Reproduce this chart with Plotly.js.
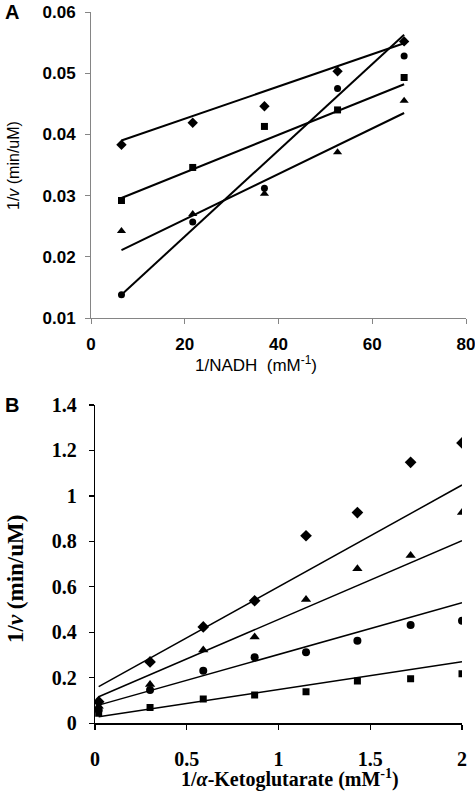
<!DOCTYPE html>
<html><head><meta charset="utf-8">
<script src="https://cdn.plot.ly/plotly-3.0.1.min.js"></script>
<style>html,body{margin:0;padding:0;background:#fff;}#chart{width:475px;height:792px;}</style>
</head><body><div id="chart"></div>
<script>
// Panel A: 1/NADH (mM^-1) vs 1/v
const xA = [6.5, 21.7, 37, 52.6, 66.8];
const diamondA = [0.0383, 0.0419, 0.0446, 0.0503, 0.0552];
const circleA = [0.0138, 0.0257, 0.0312, 0.0475, 0.0528];
const squareA = [0.0292, 0.0346, 0.0413, 0.0440, 0.0493];
const triangleA = [0.0242, 0.0270, 0.0303, 0.0371, 0.0455];
// trend line end points
const xFitA = [6.5, 66.8];
const diamondFitA = [0.0390, 0.0549];
const circleFitA = [0.0138, 0.0563];
const squareFitA = [0.0296, 0.0482];
const triangleFitA = [0.0211, 0.0435];

// Panel B: 1/alpha-ketoglutarate (mM^-1) vs 1/v
const xB = [0.02, 0.30, 0.59, 0.87, 1.15, 1.43, 1.72, 2.0];
const diamondB = [0.095, 0.27, 0.424, 0.539, 0.825, 0.927, 1.148, 1.233];
const triangleB = [0.075, 0.171, 0.322, 0.38, 0.544, 0.68, 0.738, 0.927];
const circleB = [0.058, 0.146, 0.231, 0.29, 0.312, 0.363, 0.432, 0.451];
const squareB = [0.044, 0.069, 0.107, 0.124, 0.139, 0.186, 0.196, 0.218];
const xFitB = [0.02, 2.0];
const diamondFitB = [0.161, 1.048];
const triangleFitB = [0.117, 0.803];
const circleFitB = [0.08, 0.53];
const squareFitB = [0.029, 0.271];

const sans = 'Liberation Sans, Arial, sans-serif';
const serif = 'Liberation Serif, Times New Roman, serif';

function pts(x, y, sym, size, xa, ya) {
  return {x: x, y: y, type: 'scatter', mode: 'markers', xaxis: xa, yaxis: ya,
    marker: {symbol: sym, size: size, color: '#000'}, showlegend: false, hoverinfo: 'skip'};
}
function fit(x, y, w, xa, ya) {
  return {x: x, y: y, type: 'scatter', mode: 'lines', xaxis: xa, yaxis: ya,
    line: {color: '#000', width: w}, showlegend: false, hoverinfo: 'skip'};
}

const traces = [
  fit(xFitA, diamondFitA, 2, 'x', 'y'),
  fit(xFitA, circleFitA, 2, 'x', 'y'),
  fit(xFitA, squareFitA, 2, 'x', 'y'),
  fit(xFitA, triangleFitA, 2, 'x', 'y'),
  pts(xA, diamondA, 'diamond', 8, 'x', 'y'),
  pts(xA, circleA, 'circle', 7, 'x', 'y'),
  pts(xA, squareA, 'square', 7, 'x', 'y'),
  pts(xA, triangleA, 'triangle-up', 8, 'x', 'y'),
  fit(xFitB, diamondFitB, 1.5, 'x2', 'y2'),
  fit(xFitB, triangleFitB, 1.5, 'x2', 'y2'),
  fit(xFitB, circleFitB, 1.5, 'x2', 'y2'),
  fit(xFitB, squareFitB, 1.5, 'x2', 'y2'),
  pts(xB, diamondB, 'diamond', 9, 'x2', 'y2'),
  pts(xB, triangleB, 'triangle-up', 9, 'x2', 'y2'),
  pts(xB, circleB, 'circle', 8, 'x2', 'y2'),
  pts(xB, squareB, 'square', 7, 'x2', 'y2')
];

const axA = {showgrid: false, zeroline: false, showline: true, linecolor: '#858585', linewidth: 1,
  ticks: 'outside', ticklen: 5, tickcolor: '#858585', tickwidth: 1, ticklabeloverflow: 'allow',
  tickfont: {family: sans, size: 17, color: '#000', weight: 'bold'}, ticklabelstandoff: 6};
const axB = {showgrid: false, zeroline: false, showline: true, linecolor: '#000', linewidth: 1.2,
  ticks: 'outside', ticklen: 5, tickcolor: '#000', tickwidth: 1.2, ticklabeloverflow: 'allow',
  tickfont: {family: serif, size: 20, color: '#000', weight: 'bold'}, ticklabelstandoff: 8};

const layout = {
  width: 475, height: 792,
  margin: {l: 0, r: 0, t: 0, b: 0},
  paper_bgcolor: '#fff', plot_bgcolor: '#fff',
  xaxis: Object.assign({}, axA, {domain: [91/475, 466/475], range: [0, 80], dtick: 20, anchor: 'y'}),
  yaxis: Object.assign({}, axA, {domain: [1 - 318/792, 1 - 12/792], range: [0.01, 0.06], dtick: 0.01, tickformat: '.2f', anchor: 'x'}),
  xaxis2: Object.assign({}, axB, {domain: [95/475, 462/475], range: [0, 2], dtick: 0.5, anchor: 'y2', ticklabelstandoff: 12}),
  yaxis2: Object.assign({}, axB, {domain: [1 - 723.3/792, 1 - 405/792], range: [0, 1.4], dtick: 0.2, anchor: 'x2'}),
  annotations: [
    {text: '<b>A</b>', x: 12/475, y: 1 - 12/792, xref: 'paper', yref: 'paper', xanchor: 'center', yanchor: 'middle', showarrow: false, font: {family: sans, size: 20, color: '#000'}},
    {text: '<b>B</b>', x: 12/475, y: 1 - 405/792, xref: 'paper', yref: 'paper', xanchor: 'center', yanchor: 'middle', showarrow: false, font: {family: sans, size: 20, color: '#000'}},
    {text: '1/NADH\u00a0\u00a0(mM<sup>-1</sup>)', x: 256/475, y: 1 - 364/792, xref: 'paper', yref: 'paper', xanchor: 'center', yanchor: 'middle', showarrow: false, font: {family: sans, size: 17, color: '#000'}},
    {text: '1/<i>v</i> (min/uM)', x: 14/475, y: 1 - 166/792, xref: 'paper', yref: 'paper', xanchor: 'center', yanchor: 'middle', textangle: -90, showarrow: false, font: {family: sans, size: 16, color: '#000'}},
    {text: '<b>1/<i>α</i>-Ketoglutarate (mM<sup>-1</sup>)</b>', x: 290/475, y: 1 - 778/792, xref: 'paper', yref: 'paper', xanchor: 'center', yanchor: 'middle', showarrow: false, font: {family: serif, size: 20, color: '#000'}},
    {text: '<b>1/<i>v</i> (min/uM)</b>', x: 15/475, y: 1 - 579/792, xref: 'paper', yref: 'paper', xanchor: 'center', yanchor: 'middle', textangle: -90, showarrow: false, font: {family: serif, size: 23, color: '#000'}}
  ]
};

Plotly.newPlot('chart', traces, layout, {displayModeBar: false, staticPlot: true});
</script>
</body></html>
